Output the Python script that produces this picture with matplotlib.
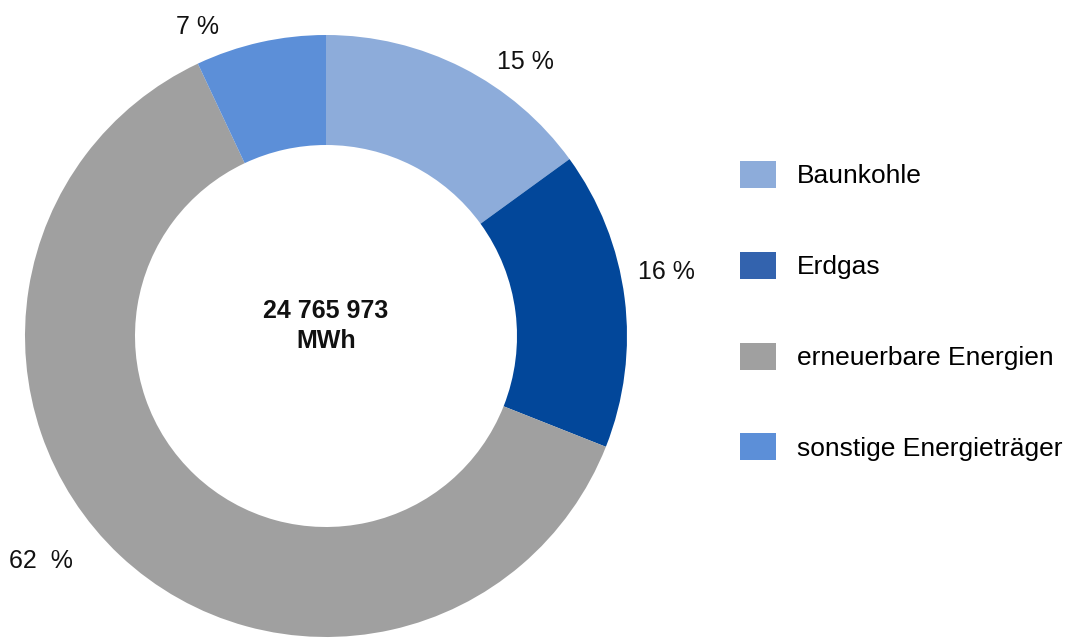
import matplotlib
matplotlib.use("Agg")
import matplotlib.pyplot as plt
from matplotlib.patches import Patch

plt.rcParams['font.family'] = ['Liberation Sans', 'DejaVu Sans']

categories = ["Baunkohle", "Erdgas", "erneuerbare Energien", "sonstige Energieträger"]
values = [15, 16, 62, 7]
labels = ["15 %", "16 %", "62  %", "7 %"]
slice_colors = ["#8DACDA", "#02479A", "#A0A0A0", "#5C8FD8"]
legend_colors = ["#8DACDA", "#3363AE", "#A0A0A0", "#5C8FD8"]
center_text = "24 765 973\nMWh"

W, H = 1070, 639
fig = plt.figure(figsize=(W / 100, H / 100), dpi=100)
ax = fig.add_axes([0, 0, 1, 1])

cx, cy, R = 326, H - 336, 301
ax.pie(values, colors=slice_colors, startangle=90, counterclock=False,
       center=(cx, cy), radius=R, frame=True,
       wedgeprops=dict(width=110, linewidth=0))
ax.set_xlim(0, W)
ax.set_ylim(0, H)
ax.set_aspect('equal')
ax.axis('off')

label_pos = [(525, 62), (666, 272), (41, 561), (198, 27)]
for (x, y), t in zip(label_pos, labels):
    ax.text(x, H - y, t, ha='center', va='center', fontsize=18, color='#111111')

ax.text(cx, H - 326, center_text, ha='center', va='center', fontsize=18,
        fontweight='bold', linespacing=1.3, color='#111111')

handles = [Patch(facecolor=c, edgecolor='none') for c in legend_colors]
fig.legend(handles, categories, loc='upper left',
           bbox_to_anchor=(740 / W, 1 - 161 / H), frameon=False,
           fontsize=19, handlelength=1.36, handleheight=1.2,
           handletextpad=0.8, labelspacing=2.4, borderpad=0, borderaxespad=0)

fig.savefig("out.png", dpi=100, facecolor='white')
